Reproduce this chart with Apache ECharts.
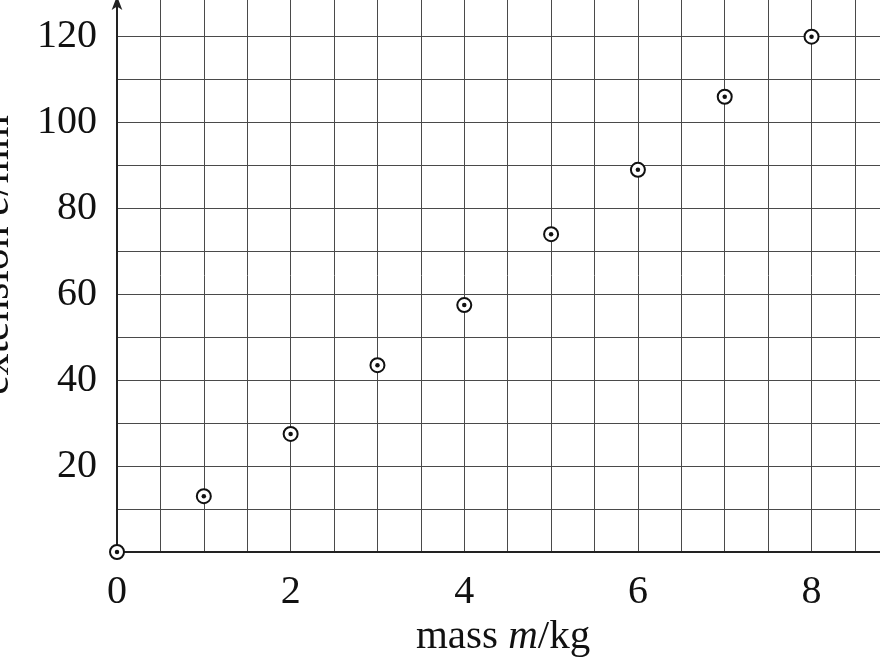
<!DOCTYPE html>
<html><head><meta charset="utf-8">
<script src="https://cdn.jsdelivr.net/npm/echarts@6/dist/echarts.min.js"></script>
<style>html,body{margin:0;padding:0;background:#fff}#c{width:880px;height:660px}</style>
</head><body><div id="c"></div>
<script>
const massKg = [0, 1, 2, 3, 4, 5, 6, 7, 8];
const extensionMm = [0, 13, 27.5, 43.5, 57.5, 74, 89, 106, 120];
const xTickLabels = [0, 2, 4, 6, 8];
const yTickLabels = [20, 40, 60, 80, 100, 120];

const points = massKg.map((m, i) => [m, extensionMm[i]]);
const FONT = '"Liberation Serif", "DejaVu Serif", serif';

const chart = echarts.init(document.getElementById('c'), null, {renderer: 'canvas'});
chart.setOption({
  animation: false,
  backgroundColor: '#fff',
  grid: {left: 117, right: -1, top: -2, bottom: 108, containLabel: false, outerBoundsMode: 'none'},
  xAxis: {
    type: 'value', min: 0, max: 8.8, interval: 0.5,
    name: '{n|mass }{i|m}{n|/kg}', nameLocation: 'middle', nameGap: 64,
    nameTextStyle: {padding: [0, 0, 0, 8], rich: {
      n: {fontFamily: FONT, fontSize: 41, color: '#111'},
      i: {fontFamily: FONT, fontSize: 41, color: '#111', fontStyle: 'italic'}
    }},
    axisLine: {show: true, onZero: false, lineStyle: {color: '#222', width: 2}},
    axisTick: {show: false},
    axisLabel: {
      margin: 20, fontFamily: FONT, fontSize: 40, color: '#111',
      formatter: v => xTickLabels.includes(Math.round(v * 100) / 100) ? String(v) : ''
    },
    splitLine: {show: true, lineStyle: {color: '#4a4a4a', width: 1}}
  },
  yAxis: {
    type: 'value', min: 0, max: 129, interval: 10,
    name: '{n|extension }{i|e}{n|/mm}', nameLocation: 'middle', nameGap: 99, nameRotate: 90,
    nameTextStyle: {padding: [0, 0, 0, 40], rich: {
      n: {fontFamily: FONT, fontSize: 44, color: '#111'},
      i: {fontFamily: FONT, fontSize: 44, color: '#111', fontStyle: 'italic'}
    }},
    axisLine: {show: true, onZero: false, symbol: ['none', 'arrow'], symbolSize: [8, 14], symbolOffset: [0, 2],
      lineStyle: {color: '#222', width: 2}},
    axisTick: {show: false},
    axisLabel: {
      margin: 20, fontFamily: FONT, fontSize: 40, color: '#111',
      formatter: v => yTickLabels.includes(v) ? String(v) : ''
    },
    splitLine: {show: true, lineStyle: {color: '#4a4a4a', width: 1}}
  },
  series: [
    {type: 'scatter', data: points, symbol: 'circle', symbolSize: 14, clip: false, z: 3,
     itemStyle: {color: '#fff', borderColor: '#111', borderWidth: 2, opacity: 1}},
    {type: 'scatter', data: points, symbol: 'circle', symbolSize: 4.5, clip: false, z: 4,
     itemStyle: {color: '#111', opacity: 1}}
  ]
});
</script></body></html>
